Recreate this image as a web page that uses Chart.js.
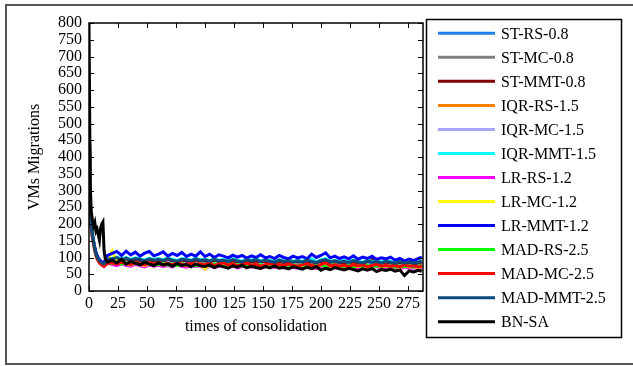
<!DOCTYPE html>
<html>
<head>
<meta charset="utf-8">
<script src="https://cdn.jsdelivr.net/npm/chart.js@4.4.0/dist/chart.umd.min.js"></script>
<style>
  body { margin: 0; background: #fff; }
  canvas { display: block; }
</style>
</head>
<body>
<canvas id="vmChart" width="633" height="366"></canvas>
<script>
// consolidation step for every sample (dense at the start, then every 4th)
var times = [0,1,2,3,4,5,6,7,8,9,10,11,12,13,14,15,16,
  20,24,28,32,36,40,44,48,52,56,60,64,68,72,76,80,84,88,92,96,
  100,104,108,112,116,120,124,128,132,136,140,144,148,152,156,160,164,168,172,176,
  180,184,188,192,196,200,204,208,212,216,220,224,228,232,236,240,244,248,252,256,
  260,264,268,272,276,280,284,287];

var xTicks = [0,25,50,75,100,125,150,175,200,225,250,275];
var yTicks = [0,50,100,150,200,250,300,350,400,450,500,550,600,650,700,750,800];

var labels = ["ST-RS-0.8","ST-MC-0.8","ST-MMT-0.8","IQR-RS-1.5","IQR-MC-1.5","IQR-MMT-1.5",
  "LR-RS-1.2","LR-MC-1.2","LR-MMT-1.2","MAD-RS-2.5","MAD-MC-2.5","MAD-MMT-2.5","BN-SA"];
var colors = ["#1E7FE6","#808080","#800000","#FF7F00","#A6A6FF","#00FFFF",
  "#FF00FF","#FFFF00","#0000FF","#00FF00","#FF0000","#0B4A7A","#000000"];

var stRS = [600,258,196,166,146,127,113,103,96,91,88,85,83,82,86,91,94,
  93,97,90,95,89,94,91,88,93,90, 92,88,94,89,87,93,90,87,92,89,
  90,87,92,88,89,86,91,87,85,90, 87,91,86,89,86,84,89,86,88,85,
  87,84,89,86,83,88,91,85,87,84, 86,83,88,85,82,87,84,86,82,86,
  84,81,85,82,85,81,84,87];
var stMC = [600,252,192,162,142,123,109,99,92,87,83,80,78,77,80,84,86,
  86,82,88,83,80,86,82,79,85,81, 84,80,83,79,85,81,78,84,80,82,
  79,83,77,81,84,78,82,76,80,83, 78,81,75,79,82,77,80,76,81,78,
  75,79,82,77,74,80,83,76,79,75, 78,74,80,76,78,73,77,80,75,78,
  74,77,73,78,75,76,72,77];
var stMMT = [600,256,194,164,144,125,111,101,94,89,86,83,81,80,84,89,92,
  94,90,96,91,88,95,90,87,94,89, 92,88,95,90,86,92,89,86,93,88,
  90,86,92,88,90,85,91,87,84,90, 86,90,85,89,86,83,89,85,88,84,
  87,83,88,85,82,88,90,84,87,83, 86,82,87,84,81,87,94,85,81,86,
  83,80,85,81,84,80,83,86];
var iqrRS = [600,251,191,161,141,122,108,98,91,86,82,79,77,76,79,83,85,
  85,81,87,82,79,84,80,77,83,79, 82,78,81,77,84,79,76,82,78,80,
  77,81,75,79,82,76,80,74,78,81, 76,79,73,77,80,75,78,74,79,76,
  73,77,80,75,72,78,81,74,77,73, 76,72,78,74,76,71,75,78,73,76,
  72,75,71,76,73,74,70,75];
var iqrMC = [600,253,192,162,142,123,109,99,92,87,83,80,78,77,81,85,87,
  83,87,81,86,80,84,79,85,81,78, 80,84,78,82,77,83,79,81,76,82,
  80,76,82,78,75,81,77,80,76,79, 79,75,80,76,78,74,79,75,77,80,
  76,80,74,78,75,79,73,77,80,74, 75,79,73,77,74,78,72,76,74,77,
  75,72,76,73,77,72,75,78];
var iqrMMT = [600,257,196,166,146,127,112,103,96,91,88,85,84,83,87,93,96,
  98,102,95,100,94,99,96,92,98,94, 97,93,99,94,91,97,95,92,98,93,
  95,91,97,92,94,90,96,92,89,95, 92,96,90,94,91,88,94,90,93,89,
  92,88,94,96,87,93,97,89,92,88, 91,87,93,89,86,92,88,90,86,91,
  88,85,90,86,89,85,88,91];
var lrRS = [600,249,189,159,139,120,106,96,89,84,80,77,75,73,76,80,82,
  80,76,82,77,74,80,75,72,78,74, 77,73,76,72,79,74,71,77,73,75,
  65,76,70,74,77,71,75,69,73,76, 71,74,68,72,75,70,73,69,74,71,
  68,72,75,70,67,73,76,69,72,68, 71,67,73,69,71,66,70,73,68,71,
  67,70,66,71,68,69,65,70];
var lrMC = [600,250,190,160,140,121,107,97,90,85,82,79,77,76,80,86,95,
  120,85,90,81,78,84,80,76,82,78, 81,77,80,76,83,78,75,81,77,79,
  66,80,74,78,81,75,79,73,77,80, 75,78,72,76,79,74,77,73,78,75,
  72,76,79,74,71,77,80,73,76,72, 75,71,77,73,75,70,74,77,72,75,
  71,74,70,75,72,73,69,74];
var lrMMT = [600,262,198,168,148,130,116,106,99,94,90,87,86,86,92,100,106,
  112,118,106,119,108,116,104,113,118,105, 110,117,104,112,106,115,103,110,104,117,
  103,110,100,108,104,99,107,101,106,98, 105,100,108,99,103,97,106,100,96,104,
  99,103,96,110,100,106,114,99,104,97, 102,96,105,95,101,97,104,94,99,96,
  101,92,97,90,95,91,97,101];
var madRS = [600,251,191,161,141,122,108,98,91,86,82,79,76,75,78,82,84,
  82,86,80,84,79,83,78,84,80,77, 79,83,77,81,76,82,78,80,75,81,
  79,75,81,77,74,80,76,79,75,78, 78,74,79,75,77,73,78,74,76,79,
  75,79,73,77,74,78,72,76,79,73, 74,78,72,76,73,77,71,75,73,76,
  74,71,75,72,76,71,74,77];
var madMC = [600,250,190,160,140,121,107,97,90,85,81,78,76,74,77,81,83,
  84,80,86,82,79,85,81,78,84,80, 83,79,82,78,85,80,77,83,79,81,
  78,82,76,80,84,77,81,75,79,83, 77,80,74,78,82,76,79,75,81,77,
  74,78,82,76,73,79,84,75,78,74, 77,73,79,75,78,72,76,80,74,77,
  73,76,72,78,74,75,71,76];
var madMMT = [600,255,195,165,145,126,111,102,95,90,87,84,82,81,85,91,94,
  96,100,93,98,92,97,94,90,96,92, 95,91,97,92,89,95,93,90,96,91,
  93,89,95,90,92,88,94,90,87,93, 90,94,88,92,89,86,92,88,91,87,
  90,86,92,88,85,91,94,87,90,86, 89,85,91,87,84,90,86,88,84,89,
  86,83,88,84,87,83,86,89];
var bnSA = [800,320,235,212,195,205,178,185,168,152,188,200,206,120,96,90,86,
  92,84,95,80,88,83,78,86,80,76, 84,77,81,74,82,76,79,72,80,75,
  73,78,70,76,72,68,75,71,77,69, 74,70,67,73,69,75,68,71,66,72,
  69,65,71,67,73,62,68,64,70,66, 63,68,64,60,66,62,67,58,64,61,
  65,59,63,46,60,57,62,59];

var series = [stRS, stMC, stMMT, iqrRS, iqrMC, iqrMMT, lrRS, lrMC, lrMMT, madRS, madMC, madMMT, bnSA];

var serif = "'Liberation Serif', 'Times New Roman', serif";

var datasets = series.map(function (vals, i) {
  return {
    label: labels[i],
    data: vals.map(function (v, k) { return { x: times[k], y: v }; }),
    borderColor: colors[i],
    backgroundColor: colors[i],
    borderWidth: 3,
    pointRadius: 0,
    tension: 0,
    order: series.length - 1 - i // later series drawn on top
  };
});

// frame, plot box, inward ticks and the boxed legend
var decorations = {
  id: "decorations",
  beforeDraw: function (chart) {
    var ctx = chart.ctx;
    ctx.save();
    ctx.fillStyle = "#fff";
    ctx.fillRect(0, 0, chart.width, chart.height);
    ctx.strokeStyle = "#555";
    ctx.lineWidth = 2;
    ctx.strokeRect(6, 5, 640, 359);
    ctx.restore();
  },
  afterDraw: function (chart) {
    var ctx = chart.ctx;
    var a = chart.chartArea;
    var xs = chart.scales.x, ys = chart.scales.y;
    ctx.save();
    ctx.strokeStyle = "#000";
    ctx.lineWidth = 1.5;
    ctx.strokeRect(a.left, a.top, a.right - a.left, a.bottom - a.top);
    ctx.beginPath();
    xTicks.forEach(function (v) {
      var px = Math.round(xs.getPixelForValue(v)) + 0.5;
      ctx.moveTo(px, a.bottom); ctx.lineTo(px, a.bottom - 5);
      ctx.moveTo(px, a.top); ctx.lineTo(px, a.top + 5);
    });
    yTicks.forEach(function (v) {
      var py = Math.round(ys.getPixelForValue(v)) + 0.5;
      ctx.moveTo(a.left, py); ctx.lineTo(a.left + 5, py);
      ctx.moveTo(a.right, py); ctx.lineTo(a.right - 5, py);
    });
    ctx.lineWidth = 1;
    ctx.stroke();

    // legend
    ctx.lineWidth = 1.5;
    ctx.strokeRect(426.5, 19.5, 195, 318);
    ctx.font = "16px " + serif;
    ctx.textBaseline = "middle";
    ctx.textAlign = "left";
    chart.data.datasets.forEach(function (ds, i) {
      var y = 33.3 + 24.03 * i;
      ctx.beginPath();
      ctx.strokeStyle = ds.borderColor;
      ctx.lineWidth = 3;
      ctx.moveTo(438, y); ctx.lineTo(495, y);
      ctx.stroke();
      ctx.fillStyle = "#000";
      ctx.fillText(ds.label, 501, y + 1);
    });
    ctx.restore();
  }
};

new Chart(document.getElementById("vmChart"), {
  type: "line",
  data: { datasets: datasets },
  plugins: [decorations],
  options: {
    responsive: false,
    animation: false,
    layout: { padding: { top: 23, right: 210, left: 0, bottom: 0 } },
    plugins: {
      legend: { display: false },
      tooltip: { enabled: false }
    },
    scales: {
      x: {
        type: "linear",
        min: 0,
        max: 288,
        afterBuildTicks: function (s) { s.ticks = xTicks.map(function (v) { return { value: v }; }); },
        afterFit: function (s) { s.height = 75; },
        grid: { display: false, drawTicks: false },
        border: { display: false },
        ticks: { color: "#000", font: { family: serif, size: 16 }, padding: 3, maxRotation: 0, autoSkip: false },
        title: { display: true, text: "times of consolidation", color: "#000",
          font: { family: serif, size: 16 }, padding: { top: 0, bottom: 30 } }
      },
      y: {
        min: 0,
        max: 800,
        afterBuildTicks: function (s) { s.ticks = yTicks.map(function (v) { return { value: v }; }); },
        afterFit: function (s) { s.width = 89; },
        grid: { display: false, drawTicks: false },
        border: { display: false },
        ticks: { color: "#000", font: { family: serif, size: 16 }, padding: 7, autoSkip: false },
        title: { display: true, text: "VMs Migrations", color: "#000",
          font: { family: serif, size: 16 }, padding: { top: 25, bottom: 0 } }
      }
    }
  }
});
</script>
</body>
</html>
